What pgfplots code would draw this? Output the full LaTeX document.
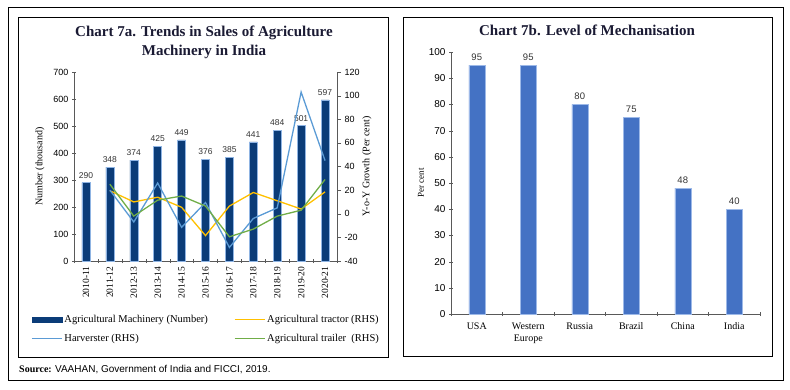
\documentclass[border=0pt]{standalone}
\usepackage{fontspec}
\setmainfont{Liberation Serif}
\newfontfamily\sansf{Liberation Sans}
\usepackage{pgfplots}
\pgfplotsset{compat=1.18}
\definecolor{navy}{HTML}{0B3C78}
\definecolor{navyedge}{HTML}{8FB4E3}
\definecolor{harv}{HTML}{5B9BD5}
\definecolor{tract}{HTML}{FFC000}
\definecolor{trail}{HTML}{70AD47}
\definecolor{barb}{HTML}{4472C4}
\definecolor{barbedge}{HTML}{9DB9E8}
\definecolor{axc}{HTML}{595959}
\definecolor{titc}{HTML}{1A1A33}
\begin{document}
\begin{tikzpicture}[x=1pt,y=1pt]
\path[use as bounding box] (0pt,0pt) rectangle (790pt,389pt);
\draw[line width=0.8pt] (8pt,9pt) rectangle (783pt,382pt);
\draw[line width=0.8pt] (18pt,32pt) rectangle (388pt,372pt);
\draw[line width=0.8pt] (403pt,33pt) rectangle (772pt,372pt);
\node[anchor=base, font=\bfseries\fontsize{15}{17}\selectfont, text=titc] at (204pt,352pt) {Chart 7a. Trends in Sales of Agriculture};
\node[anchor=base, font=\bfseries\fontsize{15}{17}\selectfont, text=titc] at (204pt,333pt) {Machinery in India};
\node[anchor=base, font=\bfseries\fontsize{15}{17}\selectfont, text=titc] at (587pt,353pt) {Chart 7b. Level of Mechanisation};
\node[anchor=base west, inner sep=0pt, font=\fontsize{10}{11}\selectfont] at (19pt,17pt) {\textbf{Source:} {\sansf VAAHAN, Government of India and FICCI, 2019.}};

\pgfplotstableread{
x val
0 290
1 348
2 374
3 425
4 449
5 376
6 385
7 441
8 484
9 501
10 597
}\machinery
\pgfplotstableread{
x tractor harvester trailer
1 19.5 20 25
2 10 -7 -2
3 14 26 11.5
4 5.5 -11.5 15
5 -18.5 9.5 6.5
6 6.5 -28.5 -19.5
7 18 -4 -13
8 11 5 -2
9 4 103 3
10 18.5 45 29
}\growth

\begin{axis}[
  at={(74pt,128pt)}, anchor=south west,
  scale only axis, width=263pt, height=189pt,
  xmin=-0.5, xmax=10.5, ymin=0, ymax=700,
  ytick={0,100,...,700},
  xtick={0,...,10},
  xticklabels={2010-11,2011-12,2012-13,2013-14,2014-15,2015-16,2016-17,2017-18,2018-19,2019-20,2020-21},
  x tick label style={rotate=90, anchor=east, font=\fontsize{9.5}{10}\selectfont},
  y tick label style={font=\sansf\fontsize{9}{10}\selectfont},
  /pgf/number format/assume math mode=true,
  major x tick style={draw=none},
  minor xtick={-0.5,0.5,...,10.5},
  minor tick length=4pt, major tick length=4pt,
  tick align=outside,
  axis x line=bottom, axis y line=left,
  axis line style={-, draw=axc},
  tick style={axc},
  ylabel={Number (thousand)},
  ylabel style={at={(axis description cs:-0.129,0.5)}, anchor=center, font=\fontsize{10}{12}\selectfont},
  clip=false,
]
\addplot[ybar, bar width=8pt, fill=navy, draw=navyedge, line width=0.5pt,
  nodes near coords, nodes near coords style={font=\sansf\fontsize{8.5}{10}\selectfont, text=black!80, yshift=1pt}]
  table[x=x, y=val] {\machinery};
\end{axis}

\begin{axis}[
  at={(74pt,128pt)}, anchor=south west,
  scale only axis, width=263pt, height=189pt,
  xmin=-0.5, xmax=10.5, ymin=-40, ymax=120,
  ytick={-40,-20,...,120},
  axis y line=right, axis x line=none,
  axis line style={-, draw=axc},
  tick style={axc},
  major tick length=4pt, tick align=outside,
  y tick label style={font=\sansf\fontsize{9}{10}\selectfont},
  /pgf/number format/assume math mode=true,
  ylabel={Y-o-Y Growth (Per cent)},
  ylabel style={at={(axis description cs:1.114,0.5)}, anchor=center, font=\fontsize{10}{12}\selectfont},
  clip=false,
  legend image code/.code={\draw[#1] (0pt,0pt) -- (30pt,0pt);},
  legend style={at={(axis description cs:-0.175,-0.265)}, anchor=north west, draw=none, fill=none,
    legend columns=2, font=\fontsize{10.5}{12}\selectfont,
    /tikz/every even column/.append style={column sep=24pt},
    row sep=6pt, cells={anchor=west}},
]
\addlegendimage{legend image code/.code={\fill[navy] (0pt,-2.5pt) rectangle (30pt,2.5pt);}}
\addlegendentry{Agricultural Machinery (Number)}
\addplot[tract, line width=1.3pt] table[x=x, y=tractor] {\growth};
\addlegendentry{Agricultural tractor (RHS)}
\addplot[harv, line width=1.3pt] table[x=x, y=harvester] {\growth};
\addlegendentry{Harverster (RHS)}
\addplot[trail, line width=1.3pt] table[x=x, y=trailer] {\growth};
\addlegendentry{Agricultural trailer\ \ (RHS)}
\end{axis}

\begin{axis}[
  at={(451pt,75pt)}, anchor=south west,
  scale only axis, width=309pt, height=262pt,
  xmin=-0.5, xmax=5.5, ymin=0, ymax=100,
  ytick={0,10,...,100},
  xtick={0,...,5},
  xticklabels={USA,Western\\Europe,Russia,Brazil,China,India},
  x tick label style={align=center, anchor=north, yshift=-3pt, font=\fontsize{10}{12}\selectfont},
  y tick label style={font=\sansf\fontsize{10}{11}\selectfont},
  /pgf/number format/assume math mode=true,
  major x tick style={draw=none},
  minor xtick={-0.5,0.5,...,5.5},
  minor tick length=4pt, major tick length=4pt,
  tick align=outside,
  axis x line=bottom, axis y line=left,
  axis line style={-, draw=axc},
  tick style={axc},
  ylabel={Per cent},
  ylabel style={at={(axis description cs:-0.097,0.5)}, anchor=center, font=\fontsize{9}{11}\selectfont},
  clip=false,
]
\addplot[ybar, bar width=16pt, fill=barb, draw=barbedge, line width=0.5pt,
  nodes near coords, nodes near coords style={font=\sansf\fontsize{9.5}{11}\selectfont, text=black!80, yshift=1pt}]
  coordinates {(0,95) (1,95) (2,80) (3,75) (4,48) (5,40)};
\end{axis}
\end{tikzpicture}
\end{document}
